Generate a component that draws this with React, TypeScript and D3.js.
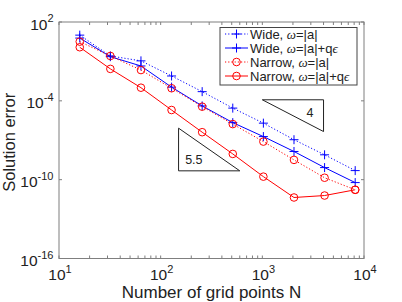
import React from "react";
import * as d3 from "d3";

// grid sizes and errors
const gridN = [16, 32, 64, 128, 256, 512, 1024, 2048, 4096, 8192];
const wideAbs = [1.0e1, 2.6e-1, 1.1e-1, 7.8e-3, 5.0e-4, 2.8e-5, 2.0e-6, 1.1e-7, 7.8e-9, 4.9e-10];
const wideAbsQ = [6.0e0, 2.3e-1, 4.5e-2, 1.1e-3, 4.1e-5, 2.2e-6, 1.9e-7, 1.4e-8, 8.3e-10, 6.0e-11];
const narrowAbs = [3.2e0, 2.6e-1, 2.2e-2, 9.1e-4, 3.6e-5, 1.7e-6, 7.9e-8, 3.2e-9, 1.4e-10, 1.7e-11];
const narrowAbsQ = [1.2e0, 2.7e-2, 1.0e-3, 2.0e-5, 4.1e-7, 9.1e-9, 1.7e-10, 4.4e-12, 6.2e-12, 1.7e-11];

const legendLabels = ["Wide, ω=|a|", "Wide, ω=|a|+qϵ", "Narrow, ω=|a|", "Narrow, ω=|a|+qϵ"];

const xMajorTicks = [1e1, 1e2, 1e3, 1e4];
const yMajorTicks = [1e-16, 1e-10, 1e-4, 1e2];

// slope triangles (data units)
const slopeLabels = ["4", "5.5"];
const slopeTriangles = [
  { x0: 1000, x1: 4000, yTop: 1.2e-4, yBot: 4.6e-7, corner: "right", lx: 2940, ly: 1.3e-5 },
  { x0: 150, x1: 600, yTop: 8.3e-7, yBot: 4.7e-10, corner: "left", lx: 212, ly: 3.6e-9 },
];

const font = "'Liberation Sans', Arial, Helvetica, sans-serif";
const textColor = "#222";
const axisColor = "#7f7f7f";

const series = [
  { values: wideAbs, color: "#0000ff", dash: "1.2,2", marker: "plus" },
  { values: wideAbsQ, color: "#0000ff", dash: null, marker: "plus" },
  { values: narrowAbs, color: "#ff0000", dash: "1.2,2", marker: "circle" },
  { values: narrowAbsQ, color: "#ff0000", dash: null, marker: "circle" },
];

const Marker = ({ type, x, y, color }: any) =>
  type === "plus" ? (
    <path d={`M${x - 4.5},${y}H${x + 4.5}M${x},${y - 4.5}V${y + 4.5}`} stroke={color} strokeWidth={1} fill="none" />
  ) : (
    <circle cx={x} cy={y} r={3.8} stroke={color} strokeWidth={1} fill="none" />
  );

const GreekText = ({ label }: { label: string }) => (
  <>
    {label.split(/([ωϵ])/).filter((s) => s.length).map((part, i) =>
      part === "ω" || part === "ϵ" ? (
        <tspan key={i} fontFamily="'Liberation Serif', 'DejaVu Serif', serif" fontStyle="italic">{part}</tspan>
      ) : (
        <tspan key={i}>{part}</tspan>
      )
    )}
  </>
);

export default function App() {
  const W = 402, H = 302;
  const x = d3.scaleLog().domain([10, 1e4]).range([59, 364]);
  const y = d3.scaleLog().domain([1e-16, 1e2]).range([258.5, 22]);
  const [x0, x1] = x.range();
  const [yb, yt] = y.range();

  const minorX = x.ticks().filter((t) => !xMajorTicks.includes(t));

  const line = d3
    .line<number>()
    .x((_, i) => x(gridN[i]))
    .y((d) => y(d));

  const tick = 3;
  const legend = { x: 220, y: 27.5, w: 137, h: 57.5, row: 14, first: 34 };

  return (
    <svg width={W} height={H} style={{ position: "absolute", left: 0, top: 0, display: "block" }} fontFamily={font}>
      <rect width={W} height={H} fill="#fff" />
      <rect x={x0} y={yt} width={x1 - x0} height={yb - yt} fill="#fff" />

      {/* slope triangles */}
      {slopeTriangles.map((t, i) => {
        const pts: [number, number][] =
          t.corner === "right"
            ? [[t.x0, t.yTop], [t.x1, t.yTop], [t.x1, t.yBot]]
            : [[t.x0, t.yTop], [t.x0, t.yBot], [t.x1, t.yBot]];
        const tri = d3.line().x((p) => x(p[0])).y((p) => y(p[1]))(pts) + "Z";
        return (
          <g key={i}>
            <path d={tri} fill="none" stroke="#222" strokeWidth={1} />
            <text x={x(t.lx)} y={y(t.ly) + 4.5} fontSize={12.5} textAnchor="middle" fill={textColor}>
              {slopeLabels[i]}
            </text>
          </g>
        );
      })}

      {/* data */}
      {series.map((s, i) => (
        <g key={i}>
          <path d={line(s.values) || ""} fill="none" stroke={s.color} strokeWidth={1} strokeDasharray={s.dash || undefined} />
          {s.values.map((v, j) => (
            <Marker key={j} type={s.marker} x={x(gridN[j])} y={y(v)} color={s.color} />
          ))}
        </g>
      ))}

      {/* axes box and ticks */}
      <rect x={x0} y={yt} width={x1 - x0} height={yb - yt} fill="none" stroke={axisColor} strokeWidth={1} />
      {[...xMajorTicks, ...minorX].map((t, i) => (
        <g key={i} stroke={axisColor} strokeWidth={1}>
          <line x1={x(t)} x2={x(t)} y1={yb} y2={yb - tick} />
          <line x1={x(t)} x2={x(t)} y1={yt} y2={yt + tick} />
        </g>
      ))}
      {yMajorTicks.map((t, i) => (
        <g key={i} stroke={axisColor} strokeWidth={1}>
          <line x1={x0} x2={x0 + tick} y1={y(t)} y2={y(t)} />
          <line x1={x1} x2={x1 - tick} y1={y(t)} y2={y(t)} />
        </g>
      ))}

      {/* tick labels */}
      {xMajorTicks.map((t, i) => (
        <text key={i} x={x(t) + 1} y={280} fontSize={15.5} textAnchor="middle" fill={textColor}>
          10<tspan dy={-7.5} fontSize={11}>{Math.round(Math.log10(t))}</tspan>
        </text>
      ))}
      {yMajorTicks.map((t, i) => (
        <text key={i} x={53.5} y={y(t) + 7.5} fontSize={15.5} textAnchor="end" fill={textColor}>
          10<tspan dy={-7.5} fontSize={11}>{Math.round(Math.log10(t))}</tspan>
        </text>
      ))}

      {/* axis labels */}
      <text x={(x0 + x1) / 2} y={298} fontSize={17} textAnchor="middle" fill={textColor}>
        Number of grid points N
      </text>
      <text transform={`translate(15,${(yt + yb) / 2 + 2}) rotate(-90)`} fontSize={16.5} textAnchor="middle" fill={textColor}>
        Solution error
      </text>

      {/* legend */}
      <g>
        <rect x={legend.x} y={legend.y} width={legend.w} height={legend.h} fill="#fff" stroke="#444" strokeWidth={1} />
        {series.map((s, i) => {
          const ly = legend.first + i * legend.row;
          return (
            <g key={i}>
              <line x1={225} x2={248} y1={ly} y2={ly} stroke={s.color} strokeWidth={1} strokeDasharray={s.dash || undefined} />
              <Marker type={s.marker} x={236.5} y={ly} color={s.color} />
              <text x={250} y={ly + 4.6} fontSize={13} fill={textColor}>
                <GreekText label={legendLabels[i]} />
              </text>
            </g>
          );
        })}
      </g>
    </svg>
  );
}
